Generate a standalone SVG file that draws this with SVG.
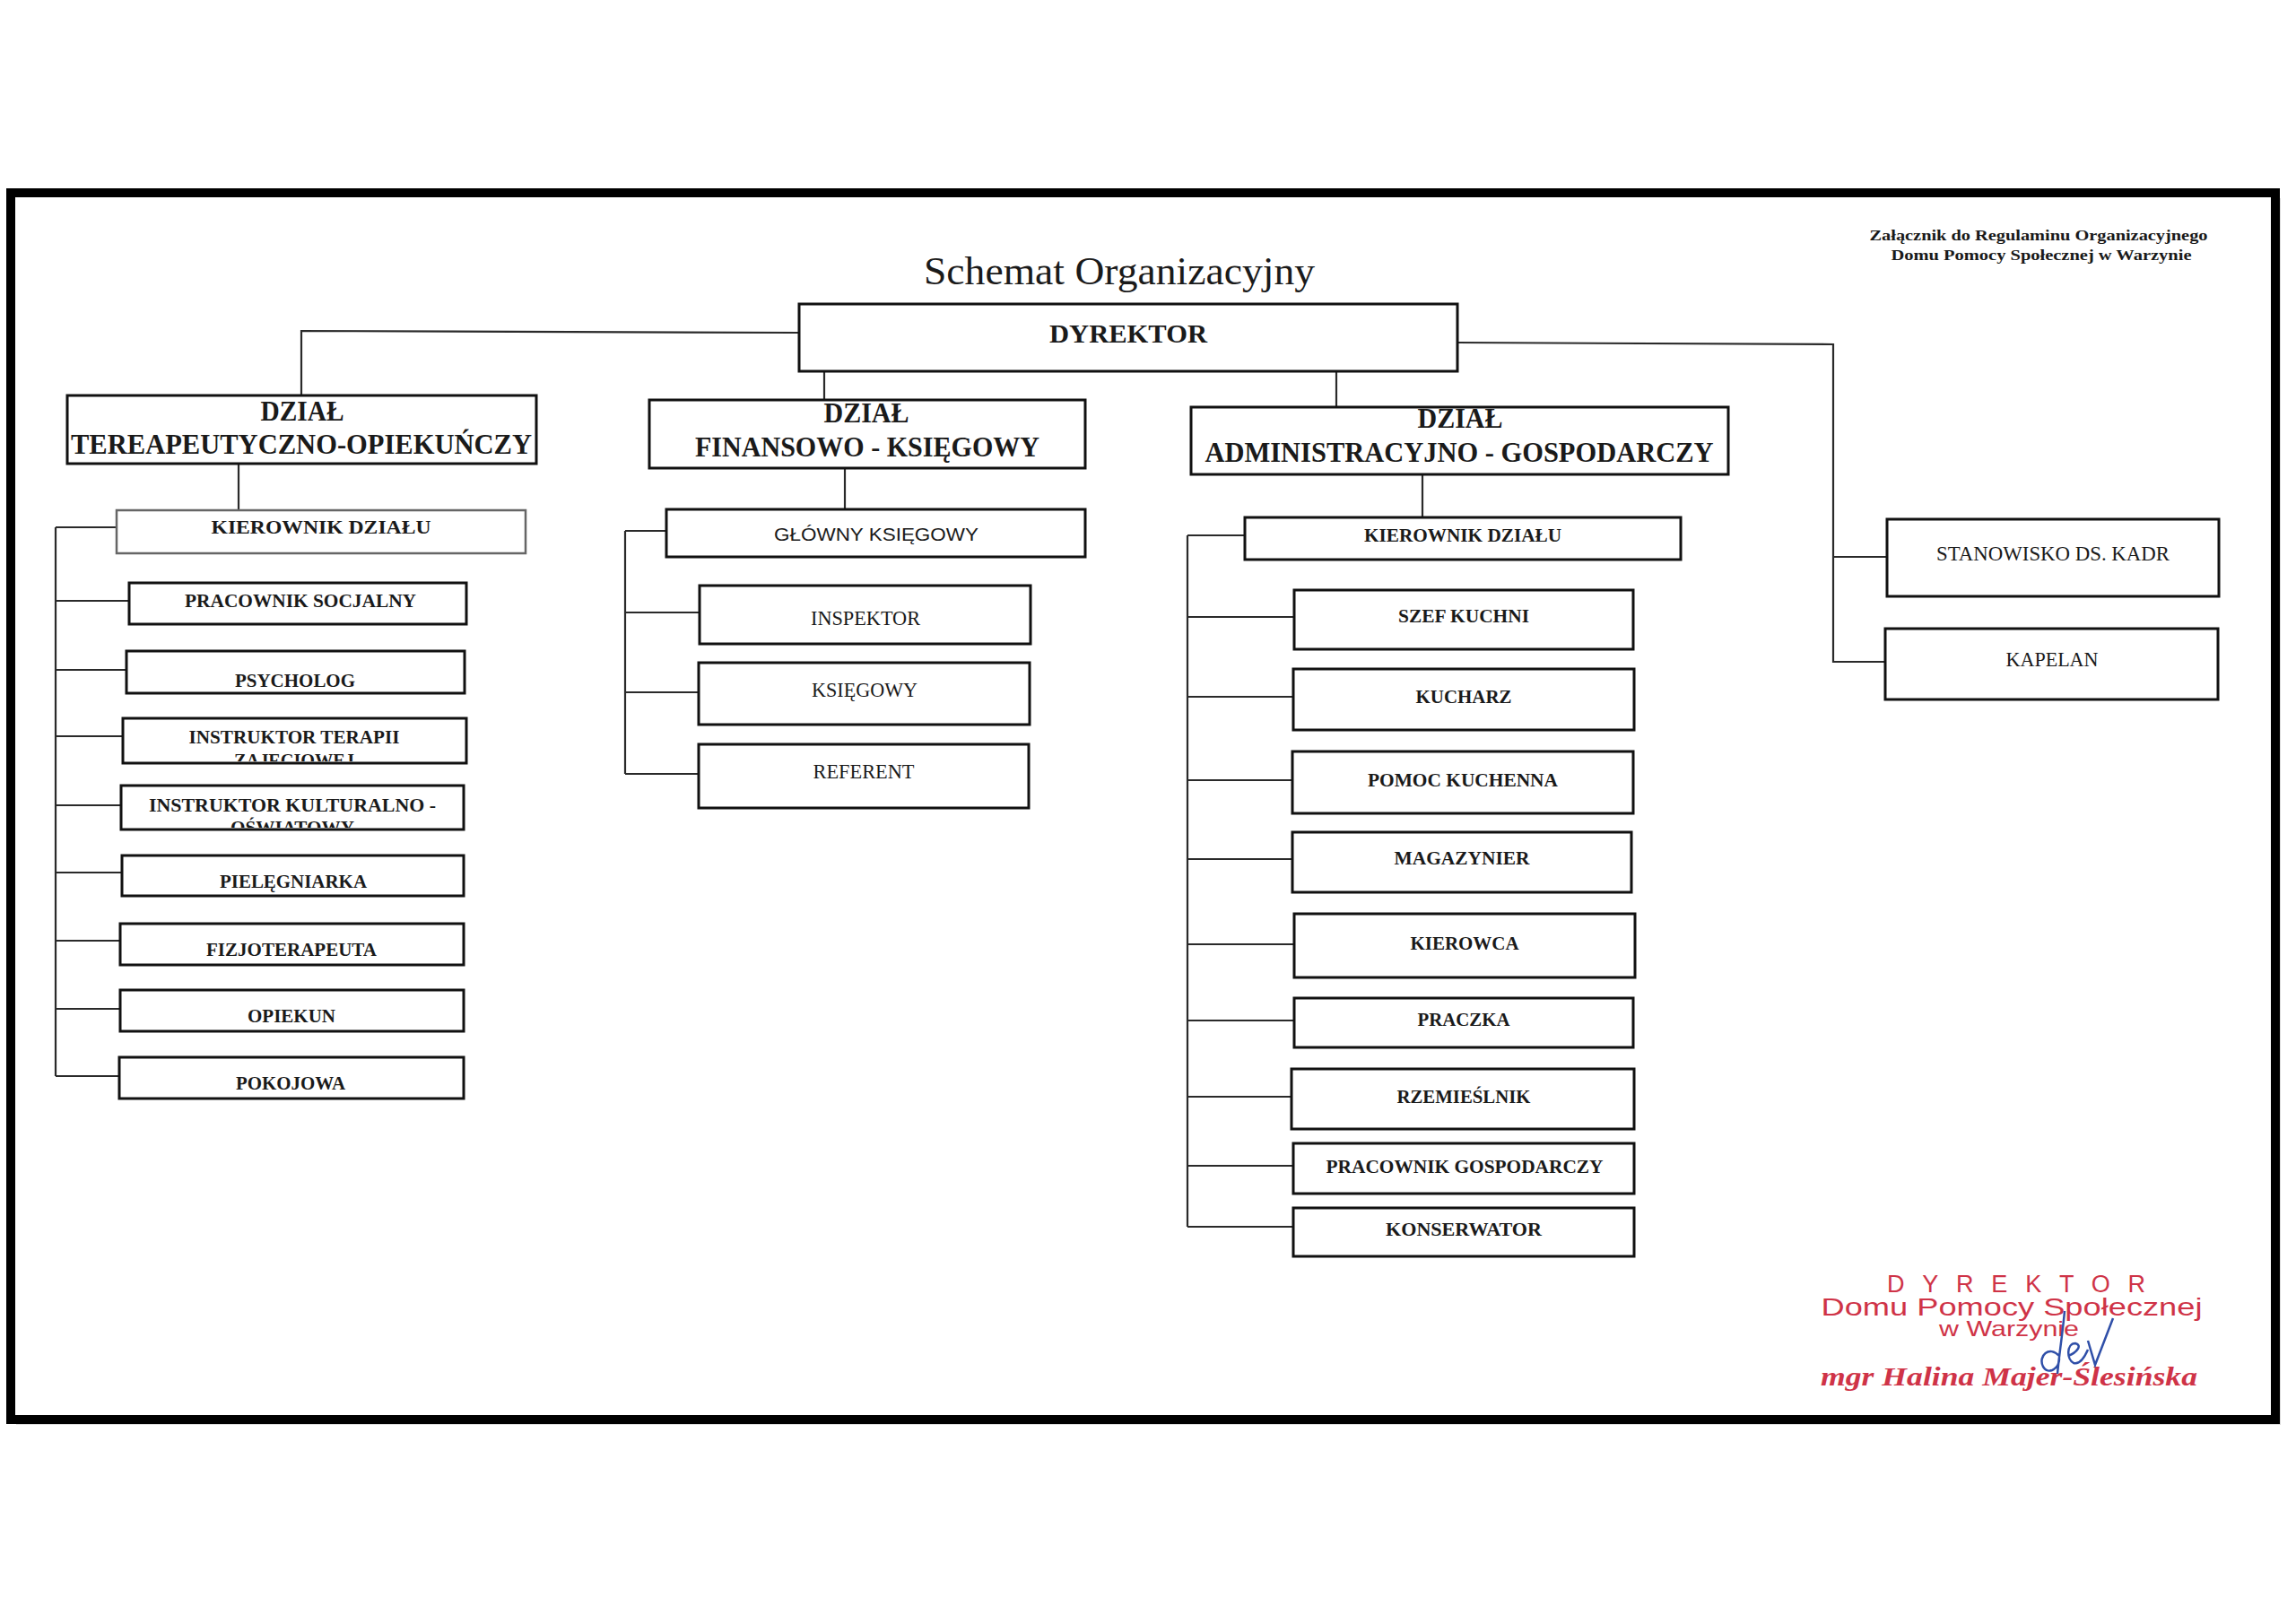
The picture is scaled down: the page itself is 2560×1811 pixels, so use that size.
<svg xmlns="http://www.w3.org/2000/svg" width="2560" height="1811" viewBox="0 0 2560 1811">
<style>
.bx{fill:#fff;stroke:#111;stroke-width:3}
.bxg{fill:#fff;stroke:#666;stroke-width:2.5}
.cn{fill:none;stroke:#2a2a2a;stroke-width:2.2}
.t{font-family:"Liberation Serif","Times New Roman",serif;fill:#1a1a1a;text-anchor:middle}
.b{font-weight:bold}
.s{font-family:"Liberation Sans",Arial,sans-serif;fill:#1a1a1a;text-anchor:middle}
.red{font-family:"Liberation Sans",Arial,sans-serif;fill:#cf3347;text-anchor:middle}
.redi{font-family:"Liberation Serif","Times New Roman",serif;font-style:italic;font-weight:bold;fill:#cf3347;text-anchor:middle}
</style>
<defs>
<clipPath id="c1"><rect x="137" y="801" width="383" height="48"/></clipPath>
<clipPath id="c2"><rect x="135" y="876" width="382" height="47"/></clipPath>
</defs>
<rect x="0" y="0" width="2560" height="1811" fill="#fff"/>
<rect x="18" y="221" width="2525" height="1368" fill="#bbb" opacity="0.5"/>
<rect x="12" y="215" width="2525" height="1368" fill="#fff" stroke="#000" stroke-width="10"/>

<g id="header">
<text class="t b" x="2273" y="268" font-size="17" textLength="377" lengthAdjust="spacingAndGlyphs">Załącznik do Regulaminu Organizacyjnego</text>
<text class="t b" x="2276" y="290" font-size="17" textLength="335" lengthAdjust="spacingAndGlyphs">Domu Pomocy Społecznej w Warzynie</text>
</g>
<text id="title" class="t" x="1248" y="317" font-size="44" textLength="436" lengthAdjust="spacingAndGlyphs">Schemat Organizacyjny</text>

<g id="connectors">
<path class="cn" d="M891 371 L336 369 L336 441"/>
<path class="cn" d="M919 414 L919 446"/>
<path class="cn" d="M1490 414 L1490 454"/>
<path class="cn" d="M1625 382 L2044 384 L2044 738 L2102 738 M2044 621 L2104 621"/>
<path class="cn" d="M266 517 L266 569"/>
<path class="cn" d="M942 522 L942 568"/>
<path class="cn" d="M1586 529 L1586 577"/>
<path class="cn" d="M62 588 L62 1200 M62 588 L130 588 M62 670 L144 670 M62 747 L141 747 M62 821 L137 821 M62 898 L135 898 M62 973 L136 973 M62 1049 L134 1049 M62 1125 L134 1125 M62 1200 L133 1200"/>
<path class="cn" d="M697 592 L697 863 M697 592 L743 592 M697 683 L780 683 M697 772 L779 772 M697 863 L779 863"/>
<path class="cn" d="M1324 597 L1324 1368 M1324 597 L1388 597 M1324 688 L1443 688 M1324 777 L1442 777 M1324 870 L1441 870 M1324 958 L1441 958 M1324 1053 L1443 1053 M1324 1138 L1443 1138 M1324 1223 L1440 1223 M1324 1300 L1442 1300 M1324 1368 L1442 1368"/>
</g>

<g id="dyrektor"><rect class="bx" x="891" y="339" width="734" height="75"/><text class="t b" x="1258" y="382" font-size="30" textLength="176" lengthAdjust="spacingAndGlyphs">DYREKTOR</text></g>

<g id="dzial-tera"><rect class="bx" x="75" y="441" width="523" height="76"/>
<text class="t b" x="337" y="469" font-size="32" textLength="93" lengthAdjust="spacingAndGlyphs">DZIAŁ</text>
<text class="t b" x="336" y="506" font-size="32" textLength="514" lengthAdjust="spacingAndGlyphs">TEREAPEUTYCZNO-OPIEKUŃCZY</text></g>
<g id="dzial-fin"><rect class="bx" x="724" y="446" width="486" height="76"/>
<text class="t b" x="966" y="471" font-size="32" textLength="95" lengthAdjust="spacingAndGlyphs">DZIAŁ</text>
<text class="t b" x="967" y="509" font-size="32" textLength="384" lengthAdjust="spacingAndGlyphs">FINANSOWO - KSIĘGOWY</text></g>
<g id="dzial-adm"><rect class="bx" x="1328" y="454" width="599" height="75"/>
<text class="t b" x="1628" y="477" font-size="32" textLength="95" lengthAdjust="spacingAndGlyphs">DZIAŁ</text>
<text class="t b" x="1627" y="515" font-size="32" textLength="567" lengthAdjust="spacingAndGlyphs">ADMINISTRACYJNO - GOSPODARCZY</text></g>

<g id="kier-tera"><rect class="bxg" x="130" y="569" width="456" height="48"/><text class="t b" x="358" y="595" font-size="22" textLength="245" lengthAdjust="spacingAndGlyphs">KIEROWNIK DZIAŁU</text></g>
<g id="prac-soc"><rect class="bx" x="144" y="650" width="376" height="46"/><text class="t b" x="335" y="677" font-size="22" textLength="258" lengthAdjust="spacingAndGlyphs">PRACOWNIK SOCJALNY</text></g>
<g id="psycholog"><rect class="bx" x="141" y="726" width="377" height="47"/><text class="t b" x="329" y="766" font-size="22" textLength="134" lengthAdjust="spacingAndGlyphs">PSYCHOLOG</text></g>
<g id="instr-ter"><rect class="bx" x="137" y="801" width="383" height="50"/>
<g clip-path="url(#c1)"><text class="t b" x="328" y="829" font-size="22" textLength="235" lengthAdjust="spacingAndGlyphs">INSTRUKTOR TERAPII</text>
<text class="t b" x="328" y="855" font-size="22" textLength="134" lengthAdjust="spacingAndGlyphs">ZAJĘCIOWEJ</text></g></g>
<g id="instr-kult"><rect class="bx" x="135" y="876" width="382" height="49"/>
<g clip-path="url(#c2)"><text class="t b" x="326" y="905" font-size="22" textLength="320" lengthAdjust="spacingAndGlyphs">INSTRUKTOR KULTURALNO -</text>
<text class="t b" x="326" y="930" font-size="22" textLength="138" lengthAdjust="spacingAndGlyphs">OŚWIATOWY</text></g></g>
<g id="pielegniarka"><rect class="bx" x="136" y="954" width="381" height="45"/><text class="t b" x="327" y="990" font-size="22" textLength="164" lengthAdjust="spacingAndGlyphs">PIELĘGNIARKA</text></g>
<g id="fizjo"><rect class="bx" x="134" y="1030" width="383" height="46"/><text class="t b" x="325" y="1066" font-size="22" textLength="190" lengthAdjust="spacingAndGlyphs">FIZJOTERAPEUTA</text></g>
<g id="opiekun"><rect class="bx" x="134" y="1104" width="383" height="46"/><text class="t b" x="325" y="1140" font-size="22" textLength="98" lengthAdjust="spacingAndGlyphs">OPIEKUN</text></g>
<g id="pokojowa"><rect class="bx" x="133" y="1179" width="384" height="46"/><text class="t b" x="324" y="1215" font-size="22" textLength="122" lengthAdjust="spacingAndGlyphs">POKOJOWA</text></g>

<g id="glowny"><rect class="bx" x="743" y="568" width="467" height="53"/><text class="s" x="977" y="603" font-size="21" textLength="228" lengthAdjust="spacingAndGlyphs">GŁÓWNY KSIĘGOWY</text></g>
<g id="inspektor"><rect class="bx" x="780" y="653" width="369" height="65"/><text class="t" x="965" y="697" font-size="23" textLength="122" lengthAdjust="spacingAndGlyphs">INSPEKTOR</text></g>
<g id="ksiegowy"><rect class="bx" x="779" y="739" width="369" height="69"/><text class="t" x="964" y="777" font-size="23" textLength="118" lengthAdjust="spacingAndGlyphs">KSIĘGOWY</text></g>
<g id="referent"><rect class="bx" x="779" y="830" width="368" height="71"/><text class="t" x="963" y="868" font-size="23" textLength="113" lengthAdjust="spacingAndGlyphs">REFERENT</text></g>

<g id="kier-adm"><rect class="bx" x="1388" y="577" width="486" height="47"/><text class="t b" x="1631" y="604" font-size="21" textLength="220" lengthAdjust="spacingAndGlyphs">KIEROWNIK DZIAŁU</text></g>
<g id="szef"><rect class="bx" x="1443" y="658" width="378" height="66"/><text class="t b" x="1632" y="694" font-size="22" textLength="146" lengthAdjust="spacingAndGlyphs">SZEF KUCHNI</text></g>
<g id="kucharz"><rect class="bx" x="1442" y="746" width="380" height="68"/><text class="t b" x="1632" y="784" font-size="22" textLength="107" lengthAdjust="spacingAndGlyphs">KUCHARZ</text></g>
<g id="pomoc"><rect class="bx" x="1441" y="838" width="380" height="69"/><text class="t b" x="1631" y="877" font-size="22" textLength="212" lengthAdjust="spacingAndGlyphs">POMOC KUCHENNA</text></g>
<g id="magazynier"><rect class="bx" x="1441" y="928" width="378" height="67"/><text class="t b" x="1630" y="964" font-size="22" textLength="151" lengthAdjust="spacingAndGlyphs">MAGAZYNIER</text></g>
<g id="kierowca"><rect class="bx" x="1443" y="1019" width="380" height="71"/><text class="t b" x="1633" y="1059" font-size="22" textLength="121" lengthAdjust="spacingAndGlyphs">KIEROWCA</text></g>
<g id="praczka"><rect class="bx" x="1443" y="1113" width="378" height="55"/><text class="t b" x="1632" y="1144" font-size="22" textLength="103" lengthAdjust="spacingAndGlyphs">PRACZKA</text></g>
<g id="rzemieslnik"><rect class="bx" x="1440" y="1192" width="382" height="67"/><text class="t b" x="1632" y="1230" font-size="22" textLength="149" lengthAdjust="spacingAndGlyphs">RZEMIEŚLNIK</text></g>
<g id="prac-gosp"><rect class="bx" x="1442" y="1275" width="380" height="56"/><text class="t b" x="1633" y="1308" font-size="22" textLength="309" lengthAdjust="spacingAndGlyphs">PRACOWNIK GOSPODARCZY</text></g>
<g id="konserwator"><rect class="bx" x="1442" y="1347" width="380" height="54"/><text class="t b" x="1632" y="1378" font-size="22" textLength="174" lengthAdjust="spacingAndGlyphs">KONSERWATOR</text></g>

<g id="kadry"><rect class="bx" x="2104" y="579" width="370" height="86"/><text class="t" x="2289" y="625" font-size="23" textLength="260" lengthAdjust="spacingAndGlyphs">STANOWISKO DS. KADR</text></g>
<g id="kapelan"><rect class="bx" x="2102" y="701" width="371" height="79"/><text class="t" x="2288" y="743" font-size="23" textLength="103" lengthAdjust="spacingAndGlyphs">KAPELAN</text></g>

<g id="stamp">
<text class="red" x="2248" y="1441" font-size="27" textLength="288" lengthAdjust="spacing">DYREKTOR</text>
<text class="red" x="2243" y="1467" font-size="27" textLength="425" lengthAdjust="spacingAndGlyphs">Domu Pomocy Społecznej</text>
<text class="red" x="2240" y="1490" font-size="24" textLength="156" lengthAdjust="spacingAndGlyphs">w Warzynie</text>
<text class="redi" x="2240" y="1545" font-size="30" textLength="420" lengthAdjust="spacingAndGlyphs">mgr Halina Majer-Ślesińska</text>
<path d="M2302 1462 C2300 1485 2296 1510 2294 1532 M2296 1512 C2285 1500 2272 1512 2278 1524 C2284 1534 2296 1526 2296 1515 M2306 1512 C2316 1508 2322 1500 2314 1498 C2304 1498 2304 1516 2312 1520 C2318 1522 2324 1514 2328 1505 M2328 1495 L2336 1522 L2356 1470" fill="none" stroke="#2f4fa8" stroke-width="2.5"/>
</g>
</svg>
